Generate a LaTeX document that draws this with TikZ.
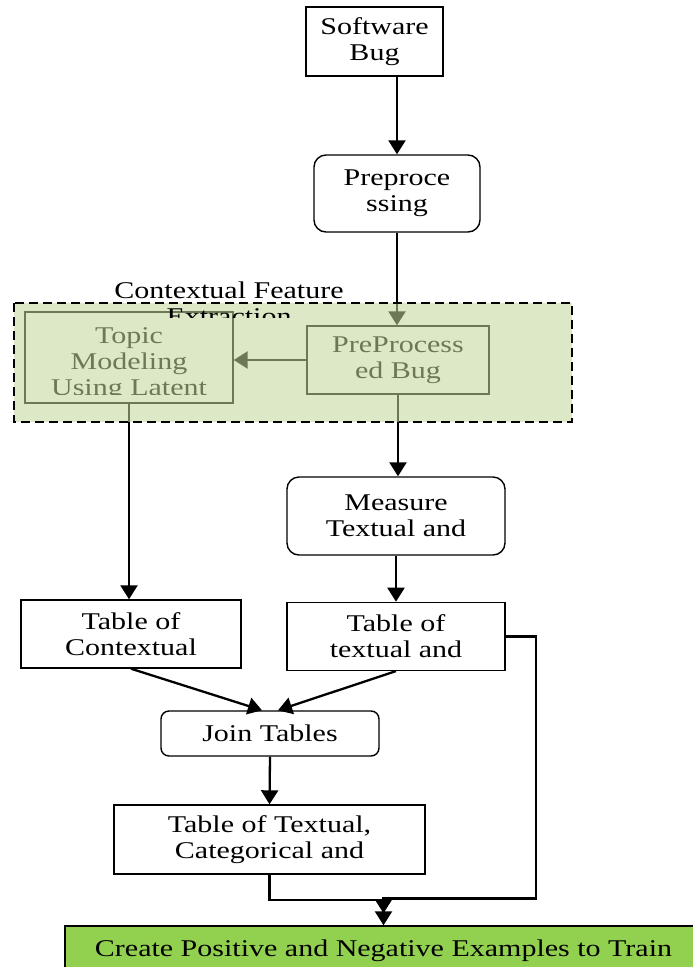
\documentclass[tikz,border=0pt]{standalone}
\usepackage{fontspec}
\setmainfont[FakeStretch=1.25]{Liberation Serif}
\usetikzlibrary{arrows.meta,positioning}
\definecolor{overlaygreen}{HTML}{C3D69B}
\definecolor{creategreen}{HTML}{92D050}
\tikzset{
 box/.style={draw,line width=1.4pt,fill=white,align=center,inner sep=0pt,
             font=\fontsize{24}{26}\selectfont},
 roundbox/.style={box,rounded corners=12pt},
 arrow/.style={-{Triangle[length=14pt,width=17pt]},line width=2.3pt},
 region/.style={draw,dash pattern=on 9pt off 5pt,line width=1.8pt,
             fill=overlaygreen,fill opacity=0.56}
}

\begin{document}
\begin{tikzpicture}[x=1pt,y=-1pt]
\path[use as bounding box,clip] (0,0) rectangle (693,967);
\node[box,minimum width=137pt,minimum height=69pt] (sw) at (374.5,41.5) {Software\\Bug};
\node[roundbox,minimum width=166pt,minimum height=77pt] (prep) at (397,193.5) {Preproce\\ssing};
\node[box,minimum width=208pt,minimum height=91pt] (topic) at (129,357.5) {};
\node[box,minimum width=182pt,minimum height=68pt] (ppbug) at (398,360) {PreProcess\\ed Bug};
\node[roundbox,minimum width=218pt,minimum height=78pt] (measure) at (396,516) {Measure\\Textual and};
\node[box,minimum width=218pt,minimum height=68pt,below=46pt of measure] (tabtext) {Table of\\textual and};
\node[box,minimum width=220pt,minimum height=68pt] (tabctx) at (131,634) {Table of\\Contextual};
\node[roundbox,rounded corners=8pt,minimum width=218pt,minimum height=45pt] (join) at (270,733.5) {Join Tables};
\node[box,minimum width=311pt,minimum height=69pt] (table3) at (269.5,839.5) {Table of Textual,\\Categorical and};
\node[box,fill=creategreen,minimum width=637pt,minimum height=50pt] (create) at (383.5,951)
  {Create Positive and Negative Examples to Train};
% text of the topic box is cut off at the bottom
\begin{scope}
\clip (topic.north west) rectangle ([yshift=9pt]topic.south east);
\node[align=center,inner sep=0pt,font=\fontsize{24}{26}\selectfont] (topictext) at (129,364)
  {Topic\\Modeling\\Using Latent};
\end{scope}

\draw[arrow] (sw.south -| prep.north) -- (prep.north);
\draw[arrow] (prep.south) -- (prep.south |- ppbug.north);
\draw[arrow] (ppbug.west) -- (ppbug.west -| topic.east);
\draw[arrow] (ppbug.south) -- (ppbug.south |- measure.north);
\draw[arrow] (topic.south) -- (topic.south |- tabctx.north);
\draw[arrow] (measure.south) -- (tabtext.north);
\draw[arrow] (tabctx.south) -- ([xshift=-8pt]join.north);
\draw[arrow] (tabtext.south) -- ([xshift=8pt]join.north);
\draw[arrow] (join.south) -- (table3.north);
\draw[arrow] (table3.south) -- ++(0,25) -| (create.north);
\draw[arrow,shorten >=12pt] (tabtext.east) -- ++(30,0) -- ++(0,262) -| (create.north);

% contextual feature extraction group
\draw[region] (14,303) rectangle (572,422);
\begin{scope}
\clip (0,0) rectangle (693,317);
\node[align=center,inner sep=0pt,font=\fontsize{24}{26}\selectfont] (ctxlabel) at (229,303)
  {Contextual Feature\\Extraction};
\end{scope}
\end{tikzpicture}
\end{document}
